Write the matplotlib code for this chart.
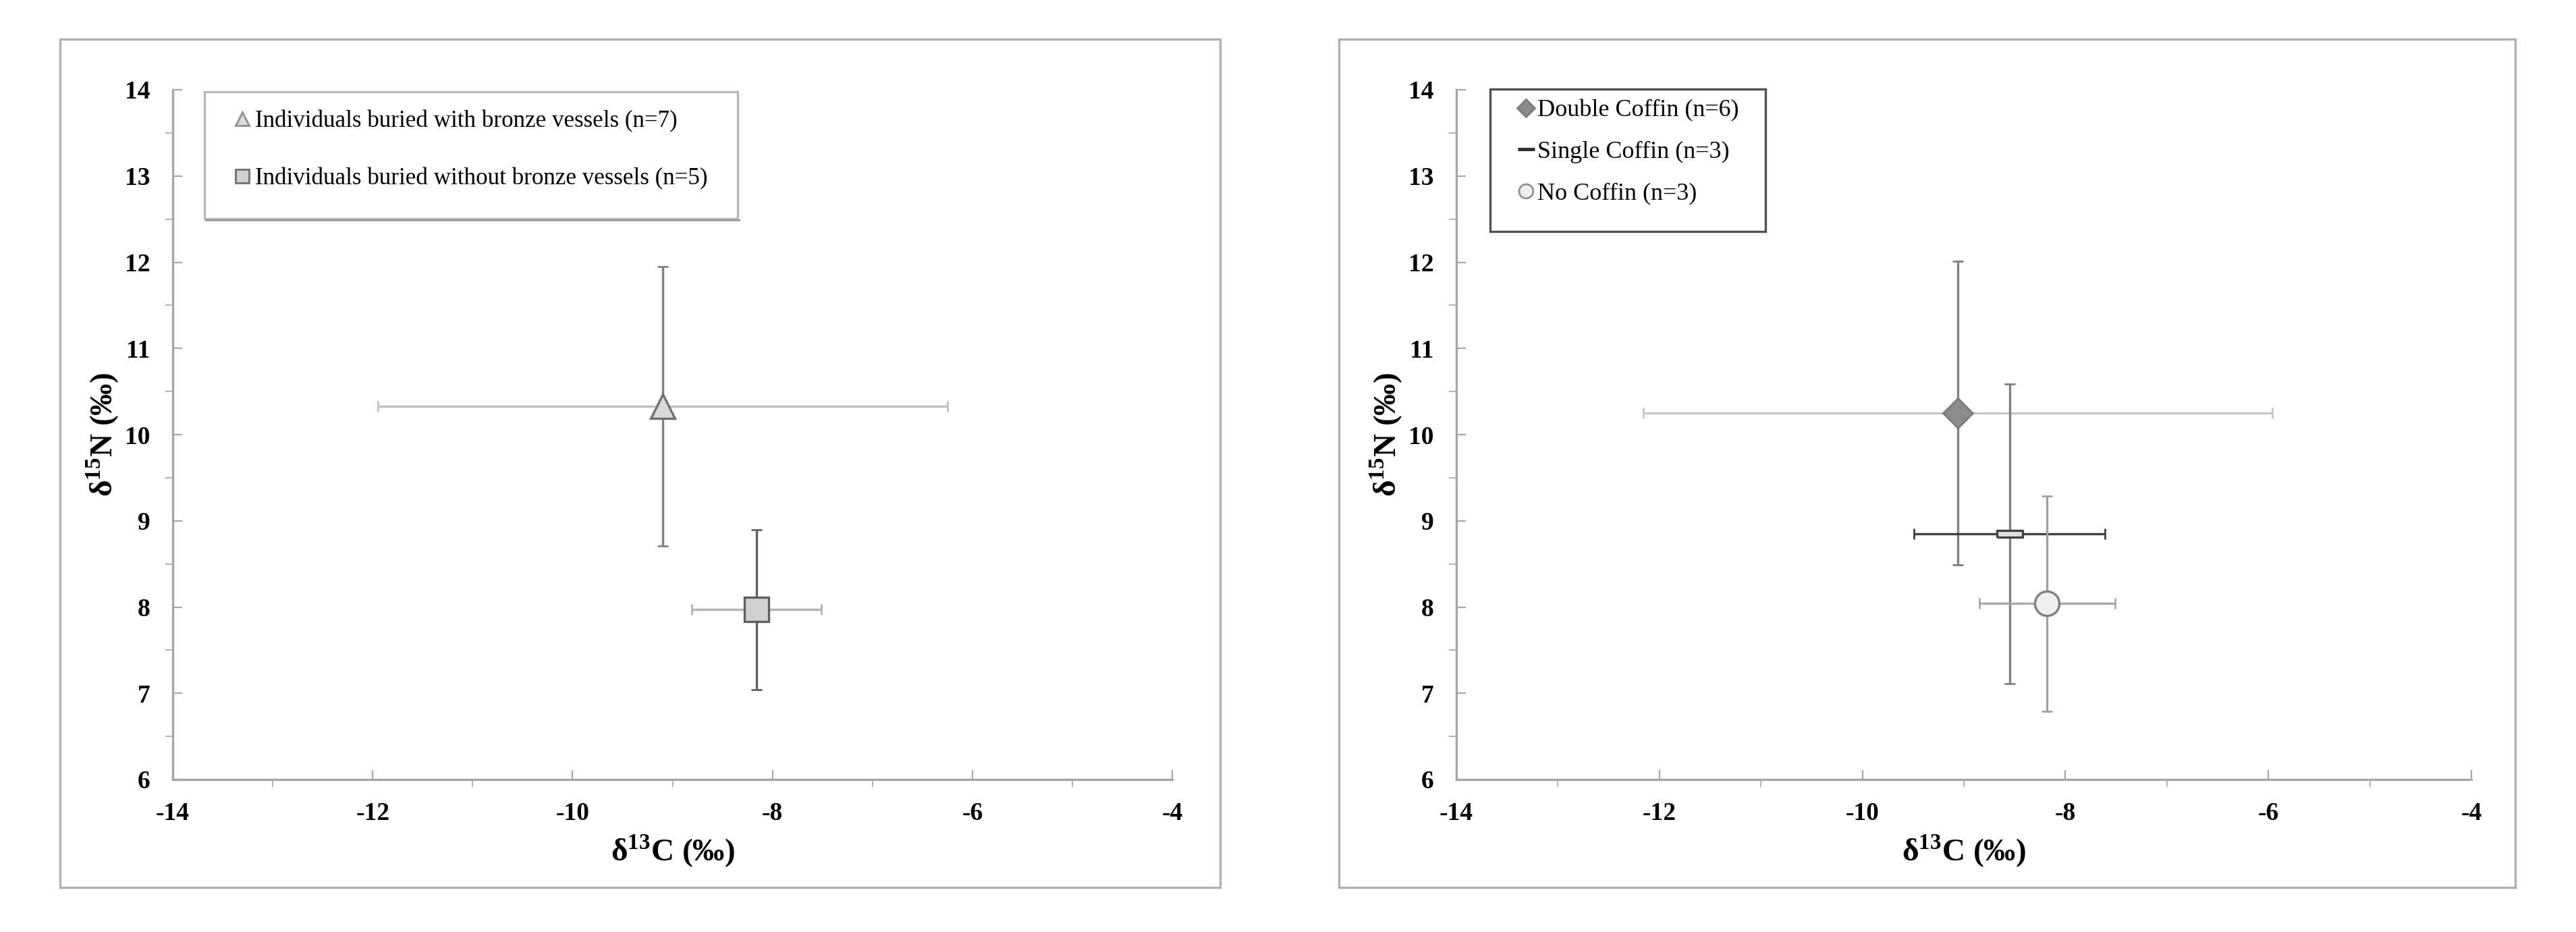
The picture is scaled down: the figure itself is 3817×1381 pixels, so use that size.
import matplotlib.pyplot as plt
from matplotlib.lines import Line2D
from matplotlib.patches import Rectangle
import numpy as np

plt.rcParams['font.family'] = ['Liberation Serif', 'DejaVu Serif']
plt.rcParams['mathtext.fontset'] = 'custom'
plt.rcParams['mathtext.rm'] = 'Liberation Serif'
plt.rcParams['mathtext.bf'] = 'Liberation Serif:bold'
plt.rcParams['axes.unicode_minus'] = False

# left panel: bronze vessels
vessel_labels = ["Individuals buried with bronze vessels (n=7)",
                 "Individuals buried without bronze vessels (n=5)"]
vessel_c = [-9.10, -8.16]
vessel_n = [10.33, 7.97]
vessel_c_err = [2.85, 0.65]
vessel_n_err = [1.62, 0.93]

# right panel: coffin type
coffin_labels = ["Double Coffin (n=6)", "Single Coffin (n=3)", "No Coffin (n=3)"]
coffin_c = [-9.06, -8.55, -8.18]
coffin_n = [10.25, 8.85, 8.04]
coffin_c_err = [3.10, 0.94, 0.67]
coffin_n_err = [1.76, 1.74, 1.25]

bar = [-1, -0.28], [1, -0.28], [1, 0.28], [-1, 0.28], [-1, -0.28]

W, H = 3817, 1381


def px_rect(fig, x0, y0, x1, y1, color, lw=1.2):
    # rectangle given in image pixels (top-left origin)
    fig.patches.append(Rectangle((x0 / W, 1 - y1 / H), (x1 - x0) / W, (y1 - y0) / H,
                                 transform=fig.transFigure, fill=False,
                                 edgecolor=color, linewidth=lw))


def style_axes(ax):
    ax.set_xlim(-14, -4)
    ax.set_ylim(6, 14)
    ax.set_xticks(np.arange(-14, -3, 2))
    ax.set_yticks(np.arange(6, 15, 1))
    ax.set_xticks(np.arange(-13, -4, 2), minor=True)
    ax.set_yticks(np.arange(6.5, 14, 1), minor=True)
    for s in ["top", "right"]:
        ax.spines[s].set_visible(False)
    for s in ["left", "bottom"]:
        ax.spines[s].set_color("#a6a6a6")
        ax.spines[s].set_linewidth(1.2)
    ax.tick_params(which="major", direction="in", length=5, color="#a6a6a6",
                   labelsize=13.5)
    ax.tick_params(axis="y", which="major", pad=12)
    ax.tick_params(axis="x", which="major", pad=12)
    ax.tick_params(which="minor", direction="out", length=4, color="#a6a6a6")
    for t in ax.get_xticklabels() + ax.get_yticklabels():
        t.set_fontweight("bold")
    ax.set_xlabel(r"δ$^{\mathbf{13}}$C (‰)", fontsize=17, fontweight="bold", labelpad=4)
    ax.set_ylabel(r"δ$^{\mathbf{15}}$N (‰)", fontsize=17, fontweight="bold", labelpad=2)


def err(ax, x, y, xe, ye, xcol, ycol):
    ax.errorbar(x, y, xerr=xe, fmt="none", ecolor=xcol, elinewidth=1.2,
                capsize=3, capthick=1.0, zorder=2)
    ax.errorbar(x, y, yerr=ye, fmt="none", ecolor=ycol, elinewidth=1.2,
                capsize=3, capthick=1.0, zorder=2)


fig = plt.figure(figsize=(W / 200, H / 200), dpi=200)

# panel frames
px_rect(fig, 89, 58, 1808, 1315, "#b0b0b0")
px_rect(fig, 1984, 58, 3727, 1315, "#b0b0b0")

ax1 = fig.add_axes([256 / W, 1 - 1155 / H, (1737 - 256) / W, (1155 - 133) / H])
ax2 = fig.add_axes([2158 / W, 1 - 1155 / H, (3662 - 2158) / W, (1155 - 133) / H])

# left
err(ax1, vessel_c[0], vessel_n[0], vessel_c_err[0], vessel_n_err[0], "#c0c0c0", "#808080")
err(ax1, vessel_c[1], vessel_n[1], vessel_c_err[1], vessel_n_err[1], "#b0b0b0", "#606060")
ax1.plot(vessel_c[0], vessel_n[0], marker="^", ms=13, mfc="#d9d9d9", mec="#707070",
         mew=1.2, ls="none", zorder=3)
ax1.plot(vessel_c[1], vessel_n[1], marker="s", ms=13, mfc="#d0d0d0", mec="#606060",
         mew=1.2, ls="none", zorder=3)
style_axes(ax1)
h1 = [Line2D([], [], marker="^", ms=7, mfc="#d9d9d9", mec="#909090", ls="none"),
      Line2D([], [], marker="s", ms=7, mfc="#d0d0d0", mec="#707070", ls="none")]
ax1.legend(h1, vessel_labels, loc="upper left",
           bbox_to_anchor=(343 / W, 1 - 163 / H), bbox_transform=fig.transFigure,
           fontsize=12.6, frameon=False, handlelength=0.9, handletextpad=0.1,
           borderpad=0, borderaxespad=0, labelspacing=1.49)
px_rect(fig, 303, 136, 1093, 324, "#b8b8b8")
fig.add_artist(Line2D([305 / W, 1095 / W], [1 - 326 / H, 1 - 326 / H],
                      transform=fig.transFigure, color="#9a9a9a", lw=1.0))

# right
err(ax2, coffin_c[0], coffin_n[0], coffin_c_err[0], coffin_n_err[0], "#c8c8c8", "#808080")
err(ax2, coffin_c[1], coffin_n[1], coffin_c_err[1], coffin_n_err[1], "#404040", "#808080")
err(ax2, coffin_c[2], coffin_n[2], coffin_c_err[2], coffin_n_err[2], "#a8a8a8", "#a0a0a0")
ax2.plot(coffin_c[0], coffin_n[0], marker="D", ms=11, mfc="#8c8c8c", mec="#7a7a7a",
         mew=1.0, ls="none", zorder=3)
ax2.plot(coffin_c[1], coffin_n[1], marker=bar, ms=14, mfc="#e0e0e0", mec="#404040",
         mew=1.2, ls="none", zorder=3)
ax2.plot(coffin_c[2], coffin_n[2], marker="o", ms=13, mfc="#eeeeee", mec="#808080",
         mew=1.2, ls="none", zorder=3)
style_axes(ax2)
h2 = [Line2D([], [], marker="D", ms=6.5, mfc="#8c8c8c", mec="#7a7a7a", ls="none"),
      Line2D([], [], marker="_", ms=9, mec="#303030", mew=1.8, ls="none"),
      Line2D([], [], marker="o", ms=7.5, mfc="#eeeeee", mec="#909090", ls="none")]
ax2.legend(h2, coffin_labels, loc="upper left",
           bbox_to_anchor=(2245 / W, 1 - 147 / H), bbox_transform=fig.transFigure,
           fontsize=13, frameon=False, handlelength=0.9, handletextpad=0.0,
           borderpad=0, borderaxespad=0, labelspacing=0.78)
px_rect(fig, 2208, 132, 2616, 343, "#505050")

fig.savefig("out.png", dpi=200, facecolor="white")
